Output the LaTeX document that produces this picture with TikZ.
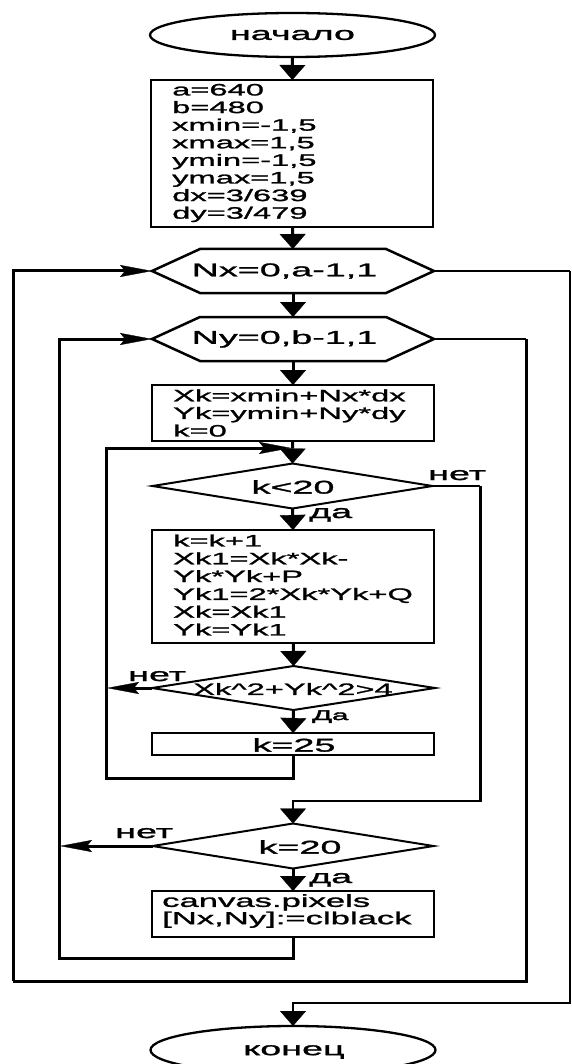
\documentclass[tikz,border=0pt]{standalone}
\usepackage{fontspec}
\setmainfont{Liberation Sans}
\newfontfamily\widefont{Liberation Sans}[FakeStretch=2.04,FakeBold=1.5]
\newfontfamily\boxfont{Liberation Sans}[FakeStretch=1.98,FakeBold=1.5]
\newfontfamily\heavyfont{Liberation Sans}[FakeStretch=2.1,FakeBold=3]
\usetikzlibrary{arrows.meta,shapes.geometric}
\tikzset{
  conn/.style={line width=3pt},
  thinconn/.style={line width=1.8pt},
  varr/.style={-{Triangle[length=15pt,width=26pt,line width=0.3pt]}},
  harr/.style={-{Stealth[length=32pt,width=12pt,inset=5pt,line width=0.3pt]}},
  procbox/.style={draw, rectangle, line width=2.8pt, inner sep=0pt, outer sep=0pt, minimum width=282pt},
  term/.style={draw, ellipse, line width=2.3pt, inner sep=0pt, outer sep=0pt, minimum width=285pt},
  decide/.style={draw, diamond, line width=2pt, inner sep=0pt, outer sep=0pt},
  hexbox/.style={rectangle, inner sep=0pt, outer sep=0pt, minimum width=282pt, minimum height=44pt},
  hexline/.style={line width=2.5pt, line join=miter},
  wtxt/.style={inner sep=0pt, font=\widefont\fontsize{18.5pt}{18pt}\selectfont},
  btxt/.style={inner sep=0pt, align=left, font=\boxfont\fontsize{16.5pt}{17.6pt}\selectfont},
  lbl/.style={inner sep=0pt, anchor=base west, font=\widefont\fontsize{18.5pt}{18pt}\selectfont},
}
\begin{document}
\begin{tikzpicture}[x=1pt,y=-1pt]
\useasboundingbox (0,0) rectangle (572,1064);
% start
\node[term, minimum height=44pt] (start) at (292.5,35) {};
\node[wtxt] (startt) at (292.5,35) {начало};
% box 1
\node[procbox, minimum height=147pt] (b1) at (292,153.5) {};
\node[btxt, anchor=west] (b1t) at (172,153) {a=640\\b=480\\xmin=-1,5\\xmax=1,5\\ymin=-1,5\\ymax=1,5\\dx=3/639\\dy=3/479};
% hexagon Nx
\node[hexbox] (nx) at (293,271) {};
\draw[hexline] (nx.west) -- ([xshift=48pt]nx.north west) -- ([xshift=-48pt]nx.north east) -- (nx.east) -- ([xshift=-48pt]nx.south east) -- ([xshift=48pt]nx.south west) -- cycle;
\node[wtxt] (nxt) at (284.5,271) {Nx=0,a-1,1};
% hexagon Ny
\node[hexbox] (ny) at (293,339) {};
\draw[hexline] (ny.west) -- ([xshift=48pt]ny.north west) -- ([xshift=-48pt]ny.north east) -- (ny.east) -- ([xshift=-48pt]ny.south east) -- ([xshift=48pt]ny.south west) -- cycle;
\node[wtxt] (nyt) at (284.5,339) {Ny=0,b-1,1};
% box 2
\node[procbox, minimum height=56pt] (b2) at (293,413) {};
\node[btxt, anchor=west] (b2t) at (173,413) {Xk=xmin+Nx*dx\\Yk=ymin+Ny*dy\\k=0};
% diamond k<20
\node[decide, minimum width=280pt, minimum height=45pt] (d1) at (292.5,486) {};
\node[wtxt] (d1t) at (293,487) {k<20};
% box 3
\node[procbox, minimum height=113pt] (b3) at (293,586.5) {};
\node[btxt, anchor=west, font=\boxfont\fontsize{16.5pt}{17.8pt}\selectfont] (b3t) at (173,585) {k=k+1\\Xk1=Xk*Xk-\\Yk*Yk+P\\Yk1=2*Xk*Yk+Q\\Xk=Xk1\\Yk=Yk1};
% diamond 2
\node[decide, minimum width=283pt, minimum height=44pt] (d2) at (293.5,688) {};
\node[btxt] (d2t) at (293,689) {Xk\^{}2+Yk\^{}2>4};
% box k=25
\node[procbox, minimum height=22pt] (b4) at (293,744) {};
\node[wtxt] (b4t) at (294,745) {k=25};
% diamond k=20
\node[decide, minimum width=281pt, minimum height=45pt] (d3) at (293,846) {};
\node[wtxt] (d3t) at (300,847) {k=20};
% canvas box
\node[procbox, minimum height=46pt] (b5) at (293,914) {};
\node[btxt, anchor=west, font=\boxfont\fontsize{17.5pt}{16pt}\selectfont] (b5t) at (162,911) {canvas.pixels\\{}[Nx,Ny]:=clblack};
% end
\node[term, minimum height=48pt] (stop) at (293,1050) {};
\node[wtxt] (stopt) at (294,1052) {конец};

% coordinates for connectors
\coordinate (loopin) at (291,448);
\coordinate (j1) at (106,778);
\coordinate (noL2) at (107,688);
\coordinate (r1) at (480,486);
\coordinate (j2) at (480,801);
\coordinate (noL3) at (60,846);
\coordinate (j3) at (59,958);
\coordinate (r2) at (526,339);
\coordinate (j5) at (13,981);
\coordinate (r3) at (570,271);
\coordinate (j6) at (570,1003);

% vertical flow
\draw[conn,varr] (start) -- (b1);
\draw[conn,varr] (b1) -- (nx);
\draw[conn,varr] (nx) -- (ny);
\draw[conn,varr] (ny) -- (b2);
\draw[conn,varr] (b2) -- (d1.north);
\draw[conn,varr] (d1.south) -- (b3.north);
\draw[conn,varr] (b3) -- (d2.north);
\draw[conn,varr] (d2.south) -- (b4.north);
\draw[conn,varr] (d3.south) -- (b5.north);

% inner loop
\draw[conn,harr] (b4.south) |- (j1) |- (loopin);
\draw[conn,harr] (d2.west) -- (noL2);
% k<20 exit
\draw[thinconn] (d1.east) -- (r1);
\draw[conn] (r1) -- ([yshift=-1pt]j2);
\draw[line width=2.3pt,varr] (j2) -| (d3.north);
% k=20 no
\draw[conn,harr] (d3.west) -- (noL3);
% Ny loop
\draw[conn,harr] (b5.south) |- (j3) |- (ny.west);
% Ny exit -> Nx loop
\draw[line width=1.8pt] (ny.east) -- (r2);
\draw[conn] (r2) |- (j5);
\draw[conn,harr] (j5) |- (nx.west);
% Nx exit -> end
\draw[thinconn] (nx.east) -- (r3);
\draw[line width=2.2pt,varr] (r3) |- (j6 -| stop.north) -- (stop.north);

% labels
\node[lbl] (no1) at (428,480) {нет};
\node[lbl] (yes1) at (309,518) {да};
\node[lbl] (no2) at (128,681) {нет};
\node[lbl, font=\heavyfont\fontsize{14pt}{14pt}\selectfont] (yes2) at (312,720) {Да};
\node[lbl] (no3) at (115,838) {нет};
\node[lbl] (yes3) at (309,883) {да};
\end{tikzpicture}
\end{document}
